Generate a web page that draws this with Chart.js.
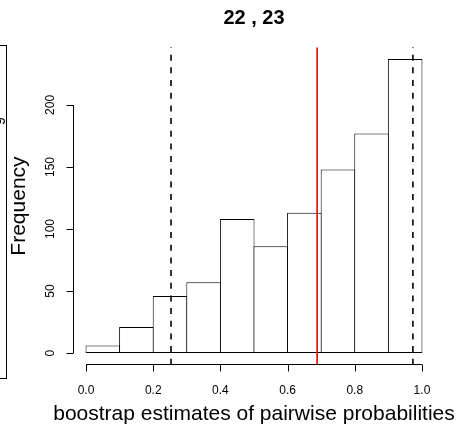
<!DOCTYPE html>
<html>
<head>
<meta charset="utf-8">
<script src="https://cdn.jsdelivr.net/npm/chart.js@4.4.1/dist/chart.umd.min.js"></script>
<style>
  body { margin: 0; background: #fff; }
  #wrap { position: relative; width: 459px; height: 427px; overflow: hidden; }
  #hist { position: absolute; left: 0; top: 0; }
  /* edge of the neighbouring panel, cut off on the left */
  #side { position: absolute; left: -20px; top: 45px; width: 25px; height: 332px; border: 1px solid #000; }
</style>
</head>
<body>
<div id="wrap">
  <canvas id="hist" width="459" height="427"></canvas>
  <div id="side"></div>
</div>
<script>
// histogram bins (left edges) and counts
const binStarts = [0.0, 0.1, 0.2, 0.3, 0.4, 0.5, 0.6, 0.7, 0.8, 0.9];
const counts = [6, 21, 46, 57, 108, 86, 113, 148, 177, 237];
const binWidth = 0.1;

// axis ticks
const xTicks = [0.0, 0.2, 0.4, 0.6, 0.8, 1.0];
const yTicks = [0, 50, 100, 150, 200];

// vertical reference lines
const dashedLines = [0.253, 0.973];
const redLines = [0.688];

const mainTitle = "22 , 23";
const xTitle = "boostrap estimates of pairwise probabilities";
const yTitle = "Frequency";

const FONT = "'Liberation Sans', Arial, Helvetica, sans-serif";

const barPoints = binStarts.map((s, i) => ({ x: s + binWidth / 2, y: counts[i] }));

// R style axes, titles and abline()s
const rPlot = {
    id: "rPlot",
    afterDatasetsDraw(chart) {
        const { ctx, chartArea: a, scales: { x } } = chart;
        ctx.save();
        ctx.beginPath();
        ctx.rect(a.left, a.top, a.right - a.left, a.bottom - a.top);
        ctx.clip();

        ctx.strokeStyle = "#000";
        ctx.lineWidth = 1.6;
        ctx.setLineDash([6, 6.67]);
        ctx.lineDashOffset = 5.27;
        dashedLines.forEach(v => {
            const px = x.getPixelForValue(v);
            ctx.beginPath();
            ctx.moveTo(px, a.top);
            ctx.lineTo(px, a.bottom);
            ctx.stroke();
        });

        ctx.setLineDash([]);
        ctx.strokeStyle = "#ff0000";
        ctx.lineWidth = 1.6;
        redLines.forEach(v => {
            const px = x.getPixelForValue(v);
            ctx.beginPath();
            ctx.moveTo(px, a.top);
            ctx.lineTo(px, a.bottom);
            ctx.stroke();
        });
        ctx.restore();
    },
    afterDraw(chart) {
        const { ctx, chartArea: a, scales: { x, y } } = chart;
        ctx.save();
        ctx.strokeStyle = "#000";
        ctx.fillStyle = "#000";
        ctx.lineWidth = 1;

        // x axis
        const ay = Math.round(a.bottom) - 0.5;
        ctx.beginPath();
        ctx.moveTo(x.getPixelForValue(xTicks[0]), ay);
        ctx.lineTo(x.getPixelForValue(xTicks[xTicks.length - 1]), ay);
        xTicks.forEach(v => {
            const px = Math.round(x.getPixelForValue(v)) + 0.5;
            ctx.moveTo(px, ay);
            ctx.lineTo(px, ay + 7);
        });
        ctx.stroke();

        ctx.font = "12px " + FONT;
        ctx.textAlign = "center";
        ctx.textBaseline = "alphabetic";
        xTicks.forEach(v => {
            ctx.fillText(v.toFixed(1), x.getPixelForValue(v), 393.5);
        });

        // y axis
        const ax = Math.round(a.left) + 0.5;
        ctx.beginPath();
        ctx.moveTo(ax, y.getPixelForValue(yTicks[0]));
        ctx.lineTo(ax, y.getPixelForValue(yTicks[yTicks.length - 1]));
        yTicks.forEach(v => {
            const py = Math.round(y.getPixelForValue(v)) + 0.5;
            ctx.moveTo(ax, py);
            ctx.lineTo(ax - 7, py);
        });
        ctx.stroke();

        yTicks.forEach(v => {
            ctx.save();
            ctx.translate(53.5, y.getPixelForValue(v));
            ctx.rotate(-Math.PI / 2);
            ctx.fillText(String(v), 0, 0);
            ctx.restore();
        });

        // axis titles
        ctx.font = "21px " + FONT;
        ctx.fillText(xTitle, (a.left + a.right) / 2, 420);
        ctx.save();
        ctx.translate(25, (a.top + a.bottom) / 2);
        ctx.rotate(-Math.PI / 2);
        ctx.fillText(yTitle, 0, 0);
        ctx.restore();

        // main title
        ctx.font = "bold 20px " + FONT;
        ctx.fillText(mainTitle, (a.left + a.right) / 2, 24);

        // clipped text of the neighbouring panel
        ctx.font = "14px " + FONT;
        ctx.save();
        ctx.translate(5, 121);
        ctx.rotate(-Math.PI / 2);
        ctx.fillText("9", 0, 0);
        ctx.restore();

        ctx.restore();
    }
};

const ctx = document.getElementById("hist").getContext("2d");
new Chart(ctx, {
    type: "bar",
    data: {
        datasets: [{
            data: barPoints,
            backgroundColor: "#ffffff",
            borderColor: "#000000",
            borderWidth: 1,
            borderSkipped: false,
            barPercentage: 1.03,
            categoryPercentage: 1
        }]
    },
    options: {
        responsive: false,
        animation: false,
        layout: { padding: { left: 72.6, right: 23.6, top: 47.3, bottom: 62.2 } },
        plugins: {
            legend: { display: false },
            tooltip: { enabled: false },
            title: { display: false }
        },
        scales: {
            x: {
                type: "linear",
                min: -0.04,
                max: 1.04,
                offset: false,
                display: false,
                afterBuildTicks: s => { s.ticks = xTicks.map(v => ({ value: v })); }
            },
            y: {
                min: -9.48,
                max: 246.48,
                display: false,
                afterBuildTicks: s => { s.ticks = yTicks.map(v => ({ value: v })); }
            }
        }
    },
    plugins: [rPlot]
});
</script>
</body>
</html>
